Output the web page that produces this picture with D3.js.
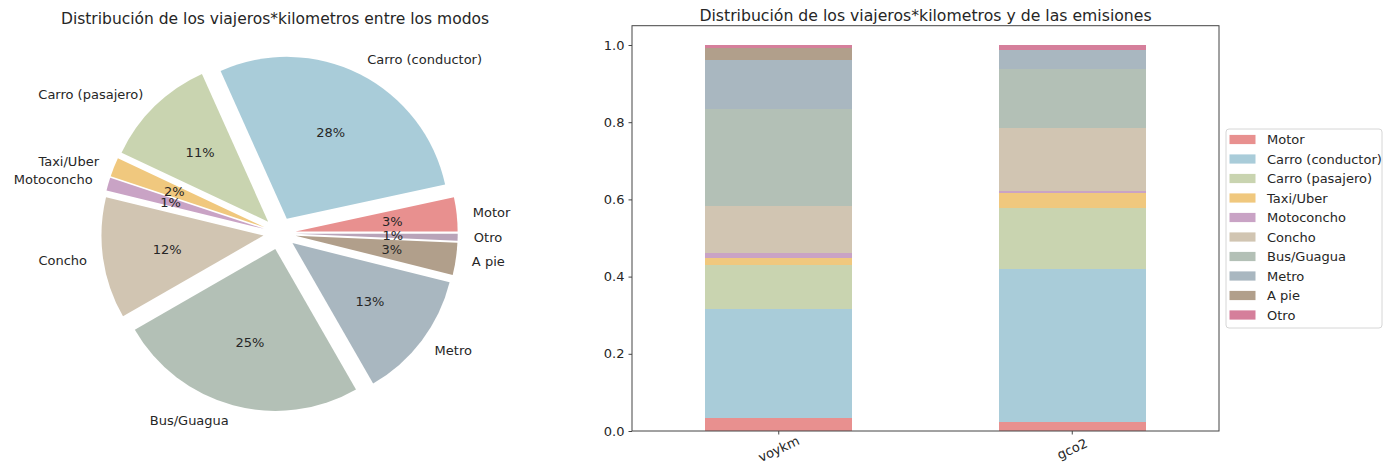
<!DOCTYPE html>
<html>
<head>
<meta charset="utf-8">
<script src="https://cdn.jsdelivr.net/npm/d3@7"></script>
<style>
	body { margin: 0; background: #fff; }
	text { font-family: "DejaVu Sans", sans-serif; fill: #262626; }
</style>
</head>
<body>
<div id="chart"></div>
<script>

// Modes, in plotting order
var modes = ['Motor', 'Carro (conductor)', 'Carro (pasajero)', 'Taxi/Uber', 'Motoconcho',
	'Concho', 'Bus/Guagua', 'Metro', 'A pie', 'Otro'];

// Share of traveller*km per mode (pie + first bar)
var voykm = [0.034, 0.283, 0.113, 0.019, 0.013, 0.121, 0.250, 0.128, 0.032, 0.007];

// Share of emissions per mode (second bar)
var gco2 = [0.023, 0.396, 0.159, 0.038, 0.006, 0.163, 0.152, 0.051, 0.000, 0.012];

var barNames = ['voykm', 'gco2'];
var yTicks = [0, 0.2, 0.4, 0.6, 0.8, 1.0];

var colors = ['#e8908f', '#a9ccd9', '#c9d4b0', '#f0c87e', '#c9a3c5',
	'#d1c5b2', '#b3c0b6', '#a9b7c0', '#b19f8b', '#d57f9b'];
var pieColors = colors.slice(0, 9).concat(['#b9a4b9']);


var W = 1384, H = 463;

var svg = d3.select('#chart').append('svg')
	.attr('width', W)
	.attr('height', H);


/* ---------- Pie ---------- */

var cx = 279.5, cy = 233.3, R = 162, explode = 0.1 * R;

svg.append('text')
	.attr('x', 275).attr('y', 19)
	.attr('text-anchor', 'middle')
	.attr('dominant-baseline', 'central')
	.style('font-size', '15.5px')
	.text('Distribución de los viajeros*kilometros entre los modos');

// counterclockwise from 3 o'clock, like matplotlib
var pie = d3.pie().sort(null)
	.startAngle(Math.PI / 2)
	.endAngle(Math.PI / 2 - 2 * Math.PI);

var arc = d3.arc().innerRadius(0).outerRadius(R);
var arcs = pie(voykm);
var total = d3.sum(voykm);
var pct = d3.format('.0f');

var pieG = svg.append('g')
	.attr('transform', 'translate(' + cx + ',' + cy + ')');

var wedges = pieG.selectAll('g.wedge')
	.data(arcs)
	.enter()
	.append('g')
	.attr('class', 'wedge')
	.attr('transform', function(d) {
		var a = (d.startAngle + d.endAngle) / 2;
		return 'translate(' + (explode * Math.sin(a)) + ',' + (-explode * Math.cos(a)) + ')';
	});

wedges.append('path')
	.attr('d', arc)
	.attr('fill', (d, i) => pieColors[i]);

wedges.append('text')
	.attr('x', (d) => 0.6 * R * Math.sin((d.startAngle + d.endAngle) / 2))
	.attr('y', (d) => -0.6 * R * Math.cos((d.startAngle + d.endAngle) / 2))
	.attr('text-anchor', 'middle')
	.attr('dominant-baseline', 'central')
	.style('font-size', '13px')
	.text((d) => pct(100 * d.value / total) + '%');

wedges.append('text')
	.attr('x', (d) => 1.1 * R * Math.sin((d.startAngle + d.endAngle) / 2))
	.attr('y', (d) => -1.1 * R * Math.cos((d.startAngle + d.endAngle) / 2))
	.attr('text-anchor', (d) => Math.sin((d.startAngle + d.endAngle) / 2) > 0 ? 'start' : 'end')
	.attr('dominant-baseline', 'central')
	.style('font-size', '13px')
	.text((d, i) => modes[i]);


/* ---------- Stacked bars ---------- */

var plotL = 632, plotR = 1219, plotT = 25.7, plotB = 431;

var x = d3.scaleBand()
	.domain(barNames)
	.range([plotL, plotR])
	.paddingInner(0.5)
	.paddingOuter(0.25);

var y = d3.scaleLinear()
	.domain([0, 1.05])
	.range([plotB, plotT]);

svg.append('text')
	.attr('x', (plotL + plotR) / 2).attr('y', 15)
	.attr('text-anchor', 'middle')
	.attr('dominant-baseline', 'central')
	.style('font-size', '15.7px')
	.text('Distribución de los viajeros*kilometros y de las emisiones');

var table = barNames.map(function(name, j) {
	var vals = j === 0 ? voykm : gco2;
	var row = {name: name};
	modes.forEach((m, i) => row[m] = vals[i]);
	return row;
});

var series = d3.stack().keys(modes)(table);

svg.append('g')
	.attr('shape-rendering', 'crispEdges')
	.selectAll('g')
	.data(series)
	.enter()
	.append('g')
	.attr('fill', (d, i) => colors[i])
	.selectAll('rect')
	.data((d) => d)
	.enter()
	.append('rect')
	.attr('x', (d) => x(d.data.name))
	.attr('width', x.bandwidth())
	.attr('y', (d) => y(d[1]))
	.attr('height', (d) => y(d[0]) - y(d[1]));

// Axes
var yAxis = svg.append('g')
	.attr('transform', 'translate(' + plotL + ',0)')
	.call(d3.axisLeft(y).tickValues(yTicks).tickFormat(d3.format('.1f')).tickSize(3.5).tickPadding(4));

var xAxis = svg.append('g')
	.attr('transform', 'translate(0,' + plotB + ')')
	.call(d3.axisBottom(x).tickSize(3.5).tickPadding(4));

[yAxis, xAxis].forEach(function(ax) {
	ax.select('.domain').remove();
	ax.selectAll('line').attr('stroke', '#444');
	ax.selectAll('text')
		.style('font-size', '13px')
		.style('font-family', '"DejaVu Sans", sans-serif')
		.attr('fill', '#262626');
});

xAxis.selectAll('text')
	.attr('text-anchor', 'middle')
	.attr('dy', null)
	.attr('y', 0)
	.attr('transform', 'translate(0,18) rotate(-25)')
	.attr('dominant-baseline', 'central');

// Frame
svg.append('rect')
	.attr('x', plotL).attr('y', plotT)
	.attr('width', plotR - plotL).attr('height', plotB - plotT)
	.attr('fill', 'none')
	.attr('stroke', '#444')
	.attr('stroke-width', 1);

// Legend
var lg = svg.append('g').attr('transform', 'translate(1226,129)');

lg.append('rect')
	.attr('width', 156).attr('height', 199)
	.attr('rx', 3)
	.attr('fill', '#fff')
	.attr('stroke', '#d6d6d6');

var items = lg.selectAll('g.item')
	.data(modes)
	.enter()
	.append('g')
	.attr('class', 'item')
	.attr('transform', (d, i) => 'translate(0,' + (10.5 + i * 19.5) + ')');

items.append('rect')
	.attr('x', 3.5).attr('y', -4.6)
	.attr('width', 26).attr('height', 9.2)
	.attr('fill', (d, i) => colors[i]);

items.append('text')
	.attr('x', 41)
	.attr('dominant-baseline', 'central')
	.style('font-size', '13px')
	.text((d) => d);

</script>
</body>
</html>
